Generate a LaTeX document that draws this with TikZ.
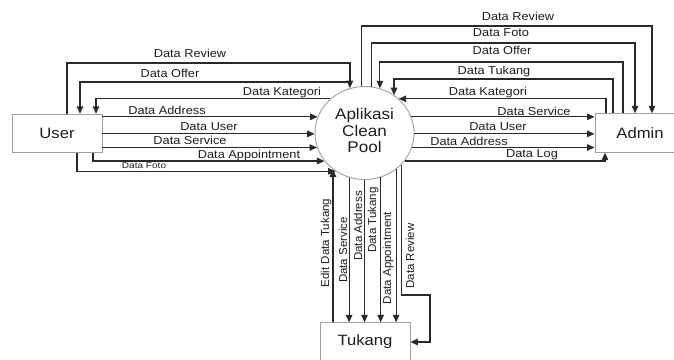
\documentclass[tikz,border=0pt]{standalone}
\usepackage{fontspec}
\setmainfont{Liberation Sans}
\usetikzlibrary{arrows.meta,shapes.geometric}
\definecolor{linec}{HTML}{2D2826}
\definecolor{boxc}{HTML}{A0A0A0}
\definecolor{txtc}{HTML}{1E1E1E}
\newcommand{\hs}[1]{\scalebox{1.11}[1]{#1}}
\begin{document}
\begin{tikzpicture}[x=1pt,y=-1pt,
  ent/.style={draw=boxc, line width=0.9pt, fill=white, rectangle, minimum width=90pt, minimum height=38.5pt, inner sep=0pt, text=txtc, font=\fontsize{15}{16}\selectfont},
  proc/.style={draw=boxc, line width=0.9pt, fill=white, ellipse, minimum width=99pt, minimum height=93pt, inner sep=0pt, text=txtc},
  arr/.style={draw=linec, line width=1.2pt, -{Triangle[length=7.5pt,width=6.5pt]}},
  hl/.style={inner sep=0pt, anchor=base, text=txtc, font=\fontsize{11.5}{12}\selectfont},
  sl/.style={inner sep=0pt, anchor=base, text=txtc, font=\fontsize{8.4}{9}\selectfont},
  vl/.style={inner sep=0pt, anchor=base, rotate=90, text=txtc, font=\fontsize{11.5}{12}\selectfont}]
\useasboundingbox (0,0) rectangle (674,359);
\clip (0,0) rectangle (674,359);
\fill[white] (0,0) rectangle (674,359);

% entities and process
\node[ent] (user) at (57,133.5) {\hs{User}};
\node[ent] (admin) at (640,133) {\hs{Admin}};
\node[ent] (tukang) at (365,342) {\hs{Tukang}};
\node[proc] (app) at (364.5,133) {\scalebox{1.1}[1]{\fontsize{15.5}{16.5}\selectfont\begin{tabular}{@{}c@{}}Aplikasi\\Clean\\Pool\end{tabular}}};

% ---- User side ----
\draw[arr] (user.north -| 67,0) -- (67,63) -| (app.108);
\draw[arr] (app.108 |- 0,82) -| (user.north -| 80,0);
\draw[arr] (app.135) -| (user.north -| 96,0);
\draw[arr] (user.east |- app.161) -- (app.161);
\draw[arr] (user.east |- app.181) -- (app.181);
\draw[arr] (user.east |- app.197) -- (app.197);
\draw[arr] (user.south -| 93,0) |- (app.215);
\draw[arr] (user.south -| 77,0) |- (app.233);

\node[hl] (l1) at (190,57) {\hs{Data Review}};
\node[hl] (l2) at (170,77) {\hs{Data Offer}};
\node[hl] (l3) at (282,95) {\hs{Data Kategori}};
\node[hl] (l4) at (167,114.5) {\hs{Data Address}};
\node[hl] (l5) at (209,130.5) {\hs{Data User}};
\node[hl] (l6) at (190,144.5) {\hs{Data Service}};
\node[hl] (l7) at (249,158) {\hs{Data Appointment}};
\node[sl] (l8) at (144,168.3) {\scalebox{1.2}[1]{Data Foto}};

% ---- Admin side ----
\draw[arr] (app.94) |- (652,26) -- (admin.north -| 652,0);
\draw[arr] (app.81) |- (635,43) -- (admin.north -| 635,0);
\draw[arr] (admin.north -| 623,0) -- (623,62) -| (app.71);
\draw[arr] (admin.north -| 613,0) -- (613,79) -| (app.52);
\draw[arr] (admin.north -| 606,0) |- (app.45);
\draw[arr] (app.19) -- (admin.west |- app.19);
\draw[arr] (app.359) -- (admin.west |- app.359);
\draw[arr] (app.343) -- (admin.west |- app.343);
\draw[arr] (app.325) -| (admin.south -| 605,0);

\node[hl] (r1) at (518,20.7) {\hs{Data Review}};
\node[hl] (r2) at (501,36.7) {\hs{Data Foto}};
\node[hl] (r3) at (502,54) {\hs{Data Offer}};
\node[hl] (r4) at (494,74) {\hs{Data Tukang}};
\node[hl] (r5) at (488,95.7) {\hs{Data Kategori}};
\node[hl] (r6) at (534,115) {\hs{Data Service}};
\node[hl] (r7) at (498,130) {\hs{Data User}};
\node[hl] (r8) at (469,145.7) {\hs{Data Address}};
\node[hl] (r9) at (532,157.7) {\hs{Data Log}};

% ---- Tukang side ----
\draw[arr] (tukang.north -| app.229) -- (app.229);
\draw[arr] (app.251) -- (tukang.north -| app.251);
\draw[arr] (app.270) -- (tukang.north -| app.270);
\draw[arr] (app.290) -- (tukang.north -| app.290);
\draw[arr] (app.311) -- (tukang.north -| app.311);
\draw[arr] (app.319) |- (430,295) |- (tukang.east |- 0,342);

\node[vl] (b1) at (329,243) {Edit Data Tukang};
\node[vl] (b2) at (347,250) {Data Service};
\node[vl] (b3) at (362,226) {Data Address};
\node[vl] (b4) at (376,220) {Data Tukang};
\node[vl] (b5) at (391,258) {Data Appointment};
\node[vl] (b6) at (414,256) {Data Review};
\end{tikzpicture}
\end{document}
